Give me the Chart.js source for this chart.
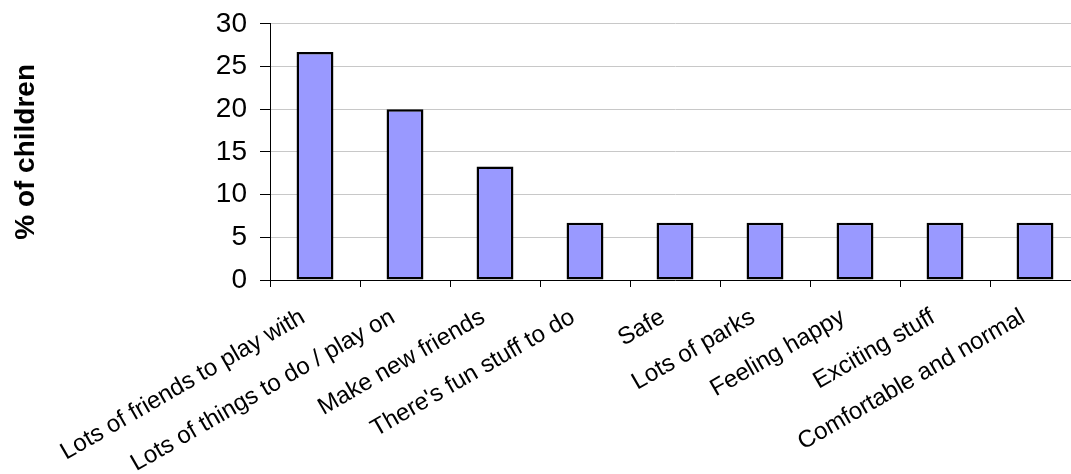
<!DOCTYPE html>
<html>
<head>
<meta charset="utf-8">
<script src="https://cdn.jsdelivr.net/npm/chart.js@4/dist/chart.umd.min.js"></script>
<style>
    html, body { margin: 0; padding: 0; background: #fff; overflow: hidden; }
    #wrap { width: 1090px; height: 480px; margin-top: -6px; }
</style>
</head>
<body>
<div id="wrap"><canvas id="chart" width="1090" height="480"></canvas></div>
<script>
// Data
const categories = [
    'Lots of friends to play with',
    'Lots of things to do / play on',
    'Make new friends',
    "There's fun stuff to do",
    'Safe',
    'Lots of parks',
    'Feeling happy',
    'Exciting stuff',
    'Comfortable and normal',
];
const percentChildren = [26.7, 20, 13.3, 6.7, 6.7, 6.7, 6.7, 6.7, 6.7];
const yTicks = [0, 5, 10, 15, 20, 25, 30];

const FONT = "'Liberation Sans', Arial, sans-serif";

const chart = new Chart(document.getElementById('chart'), {
    type: 'bar',
    data: {
        labels: categories,
        datasets: [{
            data: percentChildren,
            backgroundColor: '#9999ff',
            borderColor: '#000',
            borderWidth: 2.5,
            borderSkipped: false,
            barPercentage: 0.41,
            categoryPercentage: 1,
        }],
    },
    options: {
        responsive: false,
        animation: false,
        layout: { padding: { top: 18, right: 10, left: 0, bottom: 0 } },
        plugins: { legend: { display: false }, tooltip: { enabled: false } },
        scales: {
            x: {
                grid: { drawOnChartArea: false, drawTicks: true, tickLength: 7, tickColor: '#000', offset: true },
                border: { color: '#000', width: 1 },
                ticks: {
                    color: '#000',
                    font: { family: FONT, size: 24 },
                    minRotation: 30,
                    maxRotation: 30,
                    autoSkip: false,
                    padding: 16,
                    labelOffset: -12,
                },
                afterFit: s => { s.height = 194; },
            },
            y: {
                min: 0,
                max: 30,
                grid: { color: '#c8c8c8', tickColor: '#000', tickLength: 10 },
                border: { color: '#000', width: 1 },
                afterBuildTicks: s => { s.ticks = yTicks.map(v => ({ value: v })); },
                ticks: {
                    color: '#000',
                    font: { family: FONT, size: 28 },
                    padding: 13,
                },
                title: {
                    display: true,
                    text: '% of children',
                    color: '#000',
                    font: { family: FONT, size: 28, weight: 'bold' },
                    padding: { top: 9, bottom: 0 },
                },
                afterFit: s => { s.width = 270; },
            },
        },
    },
});
</script>
</body>
</html>
